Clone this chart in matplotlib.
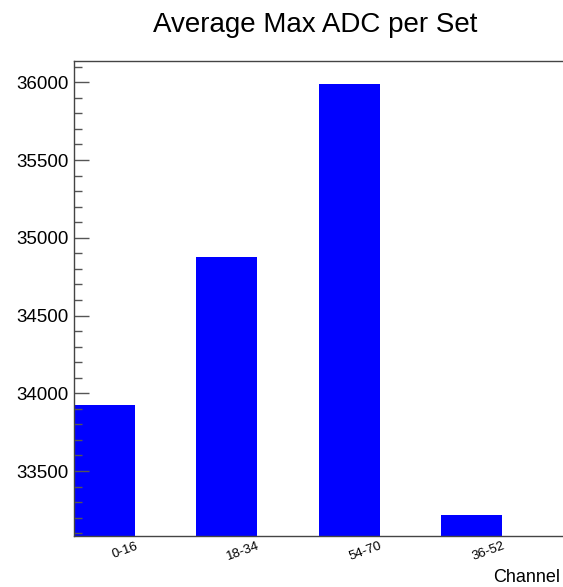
import matplotlib.pyplot as plt
import numpy as np

plt.rcParams['font.family'] = ['Liberation Sans', 'DejaVu Sans']

# data
channels = ['0-16', '18-34', '54-70', '36-52']
avg_max_adc = [33927, 34876, 35992, 33220]

W, H = 563, 587
fig = plt.figure(figsize=(W / 100, H / 100), dpi=100)
ax = fig.add_axes([74 / W, 1 - 536 / H, 1 - 74 / W, (536 - 61) / H])

x = np.arange(len(channels))
ax.bar(x, avg_max_adc, width=0.5, align='edge', color='#0000ff', edgecolor='none')

ax.set_xlim(0, len(channels))
ax.set_ylim(33082, 36137)

ax.set_xticks(x + 0.5)
ax.set_xticklabels(channels, rotation=20, ha='right', rotation_mode='anchor', fontsize=9.5)
ax.tick_params(axis='x', length=0, pad=3)

ax.set_yticks([33500, 34000, 34500, 35000, 35500, 36000])
ax.set_yticks(np.arange(33100, 36137, 100), minor=True)
ax.tick_params(axis='y', which='major', direction='in', length=11, width=1, colors='#555555',
               labelcolor='black', labelsize=13.5, pad=4)
ax.tick_params(axis='y', which='minor', direction='in', length=6, width=1, colors='#555555')
ax.yaxis.set_major_formatter(plt.FuncFormatter(lambda v, p: f'{int(v)}'))

for side in ['left', 'bottom', 'top']:
    ax.spines[side].set_color('#444444')
    ax.spines[side].set_linewidth(1)
ax.spines['right'].set_visible(False)

fig.text(315 / W, 1 - 32 / H, 'Average Max ADC per Set', ha='center', va='baseline', fontsize=20)
fig.text(560 / W, 1 - 578 / H, 'Channel', ha='right', va='center', fontsize=13)

fig.savefig('out.png', dpi=100)
